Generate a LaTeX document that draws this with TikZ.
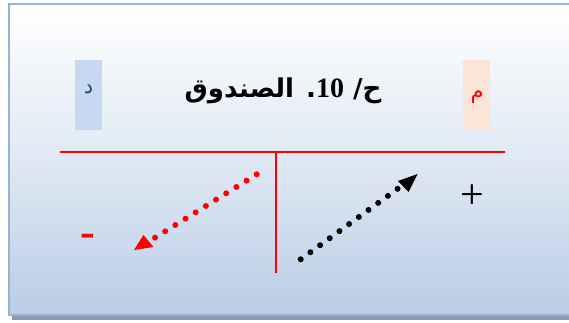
\documentclass[tikz,border=0pt]{standalone}
\usepackage{fontspec}
\setmainfont{Liberation Serif}
\newfontfamily\arabicfont[Script=Arabic]{DejaVu Sans}
\TeXXeTstate=1
\usetikzlibrary{arrows.meta}
\definecolor{bordblue}{HTML}{95B3D7}
\definecolor{topcol}{HTML}{FFFFFF}
\definecolor{botcol}{HTML}{B9CDE5}
\definecolor{shadowgray}{HTML}{8E9AAE}
\definecolor{debitbox}{HTML}{C6D9F0}
\definecolor{creditbox}{HTML}{FBE5D6}
\definecolor{darkblue}{HTML}{1F497D}
\definecolor{tred}{HTML}{FF0000}
\tikzset{
  tline/.style={draw=tred, line width=2pt},
  dotarrow/.style={line width=6pt, line cap=round, dash pattern=on 0pt off 11.98pt},
  sidebox/.style={minimum width=27pt, minimum height=70pt, inner sep=0pt, anchor=north west}
}
\begin{document}
\begin{tikzpicture}[x=1pt,y=-1pt]
\useasboundingbox (0,0) rectangle (569,322);
% shadow
\fill[shadowgray] (12,315) rectangle (575,320);
% panel
\shade[top color=topcol, bottom color=botcol, middle color=botcol!45!white] (9,4) rectangle (575,315);
\draw[bordblue, line width=2pt] (575,4) -- (9,4) -- (9,315) -- (575,315);
% side boxes
\node[sidebox, fill=debitbox] (deb) at (75,60) {};
\node[text=darkblue, font=\arabicfont\fontsize{21}{22}\selectfont] (debt) at (88.5,89) {\beginR د\endR};
\node[sidebox, fill=creditbox] (cred) at (463,60) {};
\node[text=tred, font=\arabicfont\fontsize{21}{22}\selectfont] (credt) at (477,97) {\beginR م\endR};
% title
\node[font=\arabicfont\bfseries\fontsize{26}{28}\selectfont] (title) at (283,91) {\beginR ح/ {\rmfamily\bfseries\fontsize{28}{28}\selectfont\beginL 10\endL}. الصندوق\endR};
% T account
\coordinate (hl) at (60,152);
\coordinate (hr) at (505,152);
\coordinate (vt) at (275.5,152);
\coordinate (vb) at (275.5,272.5);
\draw[tline] (hl) -- (hr);
\draw[tline] (vt) -- (vb);
% arrows
\coordinate (ra) at (256.7,174.3);
\coordinate (rb) at (155,237.7);
\draw[dotarrow, tred] (ra) -- (rb);
\coordinate (rtip) at (134,250);
\fill[tred] (rtip) -- (153.5,247) -- (143.5,235) -- cycle;
\coordinate (ba) at (300.7,259.3);
\coordinate (bb) at (397.7,188.7);
\draw[dotarrow, black] (ba) -- (bb);
\coordinate (btip) at (417.5,174);
\fill[black] (btip) -- (398,181) -- (408.5,192) -- cycle;
% signs
\node[font=\fontsize{42}{42}\selectfont] (plus) at (472.5,197) {+};
\node[text=tred, font=\bfseries\fontsize{44}{44}\selectfont] (minus) at (87.5,240) {-};
\end{tikzpicture}
\end{document}
